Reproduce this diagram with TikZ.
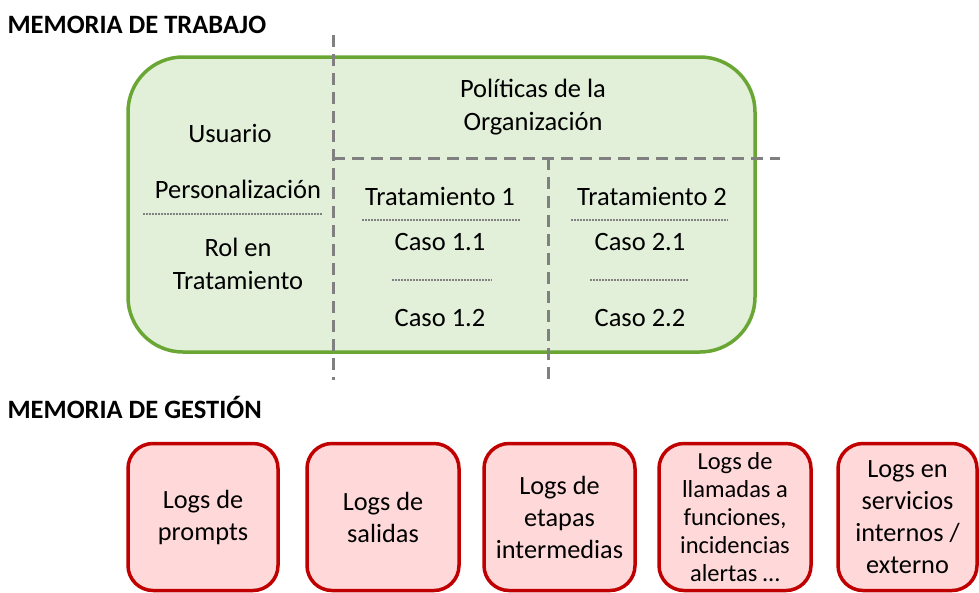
\documentclass[tikz,border=0pt]{standalone}
\usepackage{fontspec}
\setmainfont{Carlito}
\definecolor{PanelColor}{RGB}{106,166,52}
\definecolor{PanelFill}{RGB}{226,239,217}
\definecolor{LogColor}{RGB}{192,0,0}
\definecolor{LogFill}{RGB}{255,217,217}
\definecolor{DividerColor}{RGB}{128,128,128}
\usetikzlibrary{positioning}
\tikzstyle{panel} = [draw=PanelColor, line width=3.5pt, fill=PanelFill, rounded corners=55pt, minimum width=627pt, minimum height=295pt, inner sep=0pt]
\tikzstyle{logbox} = [draw=LogColor, line width=3.5pt, fill=LogFill, rounded corners=25pt, minimum height=147pt, inner sep=0pt, align=center, font=\fontsize{26.3}{32}\selectfont]
\tikzstyle{label} = [align=center, font=\fontsize{26.5}{33}\selectfont]
\tikzstyle{title} = [anchor=west, font=\fontsize{26.5}{30}\selectfont\bfseries]
\tikzstyle{divider} = [DividerColor, line width=3pt, dash pattern=on 12pt off 7pt]
\tikzstyle{sep} = [DividerColor, line width=1.6pt, dash pattern=on 1.5pt off 1.5pt]

\begin{document}
\begin{tikzpicture}[x=1pt, y=-1pt]
            \useasboundingbox (0,0) rectangle (979,592);
            % Memoria de trabajo
            \node[title] (trabajo) at (4,25) {MEMORIA DE TRABAJO};
            \node[panel] (panel) at (441.5,204.5) {};
            \draw[divider] (333,35) -- (333,380);
            \draw[divider] (333,158) -- (780,158);
            \draw[divider] (548,158) -- (548,385);
            \node[label] (usuario) at (230,133) {Usuario};
            \node[label] (personal) at (238,189) {Personalización};
            \draw[sep] (143,214) -- (322,214);
            \node[label] (rol) at (238,264) {Rol en\\Tratamiento};
            \node[label] (politicas) at (533,107) {Políticas de la\\Organización};
            \node[label] (trat1) at (440,196) {Tratamiento 1};
            \draw[sep] (362,220) -- (520,220);
            \node[label] (caso11) at (440,242) {Caso 1.1};
            \draw[sep] (392,280) -- (492,280);
            \node[label] (caso12) at (440,318) {Caso 1.2};
            \node[label] (trat2) at (652,196) {Tratamiento 2};
            \draw[sep] (571,220) -- (728,220);
            \node[label] (caso21) at (640,242) {Caso 2.1};
            \draw[sep] (590,280) -- (688,280);
            \node[label] (caso22) at (640,318) {Caso 2.2};

            % Memoria de gestion
            \node[title] (gestion) at (4,407) {MEMORIA DE GESTIÓN};
            \node[logbox, minimum width=150pt] (prompts) at (203,517) {Logs de\\prompts};
            \node[logbox, minimum width=152pt] (salidas) at (383,517) {Logs de\\salidas};
            \node[logbox, minimum width=151pt] (etapas) at (559.5,517) {Logs de\\etapas\\intermedias};
            \node[logbox, minimum width=152pt, font=\fontsize{24.5}{28}\selectfont] (llamadas) at (735,517) {Logs de\\llamadas a\\funciones,\\incidencias\\alertas …};
            \node[logbox, minimum width=139pt] (servicios) at (907.5,517) {Logs en\\servicios\\internos /\\externo};
        \end{tikzpicture}
\end{document}
